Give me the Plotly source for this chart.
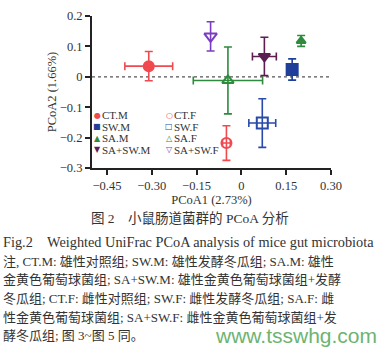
import plotly.graph_objects as go

groups = ["CT.M", "SW.M", "SA.M", "SA+SW.M", "CT.F", "SW.F", "SA.F", "SA+SW.F"]
pc1 = [-0.31, 0.17, 0.20, 0.077, -0.05, 0.07, -0.045, -0.103]
pc2 = [0.035, 0.024, 0.118, 0.067, -0.218, -0.152, -0.012, 0.133]
pc1_err = [0.08, 0.0, 0.0, 0.04, 0.013, 0.045, 0.116, 0.0]
pc2_err = [0.048, 0.035, 0.018, 0.063, 0.057, 0.08, 0.11, 0.048]
colors = ["#f0494f", "#1f3f99", "#2e8b3e", "#5a1f50", "#f0494f", "#2a4aa8", "#2e8b3e", "#7a3cc0"]
symbols = ["circle", "square", "triangle-up", "triangle-down",
           "circle-open", "square-open", "triangle-up-open", "triangle-down-open"]
sizes = [10, 11, 8, 10, 10, 11, 10, 11]
legend_glyphs = ["●", "■", "▲", "▼", "○", "□", "△", "▽"]

x_ticks = [-0.45, -0.30, -0.15, 0, 0.15, 0.30]
x_tick_text = ["−0.45", "−0.30", "−0.15", "0", "0.15", "0.30"]
y_ticks = [-0.3, -0.2, -0.1, 0, 0.1, 0.2]
y_tick_text = ["−0.3", "−0.2", "−0.1", "0", "0.1", "0.2"]

title_cn = "图 2　小鼠肠道菌群的 PCoA 分析"
caption_lines = [
    "Fig.2　Weighted UniFrac PCoA analysis of mice gut microbiota",
    "注, CT.M: 雄性对照组; SW.M: 雄性发酵冬瓜组; SA.M: 雄性",
    "金黄色葡萄球菌组; SA+SW.M: 雄性金黄色葡萄球菌组+发酵",
    "冬瓜组; CT.F: 雌性对照组; SW.F: 雌性发酵冬瓜组; SA.F: 雌",
    "性金黄色葡萄球菌组; SA+SW.F: 雌性金黄色葡萄球菌组+发",
    "酵冬瓜组; 图 3~图 5 同。",
]
watermark = "www.tsswhg.com"

L, R, T, B = 92, 57, 9, 184
W, H = 388, 352
pw, ph = W - L - R, H - T - B

def px(x):
    return (x - L) / pw

def py(y):
    return (H - B - y) / ph

serif = "Liberation Serif, Times New Roman, serif"
cjk = "Liberation Serif, Noto Sans CJK SC, serif"

fig = go.Figure()
for i, g in enumerate(groups):
    fig.add_trace(go.Scatter(
        x=[pc1[i]], y=[pc2[i]], mode="markers", name=g,
        marker=dict(symbol=symbols[i], size=sizes[i], color=colors[i],
                    line=dict(color=colors[i], width=2)),
        error_x=dict(type="data", array=[pc1_err[i]], visible=pc1_err[i] > 0,
                     color=colors[i], thickness=1.6, width=4),
        error_y=dict(type="data", array=[pc2_err[i]], visible=True,
                     color=colors[i], thickness=1.6, width=4),
        showlegend=False,
    ))

fig.add_shape(type="line", xref="paper", yref="y", x0=0, x1=1, y0=0, y1=0,
              line=dict(color="#555555", width=1.2, dash="dot"), layer="below")

annotations = []
leg_cols = [97, 169]
leg_rows = [113, 125, 137, 149]
for i, g in enumerate(groups):
    col = i // 4
    row = i % 4
    gx = leg_cols[col]
    gy = leg_rows[row]
    annotations.append(dict(xref="paper", yref="paper", x=px(gx), y=py(gy),
                            text=legend_glyphs[i], showarrow=False, xanchor="center",
                            yanchor="middle",
                            font=dict(size=8, color=colors[i], family="DejaVu Sans")))
    annotations.append(dict(xref="paper", yref="paper", x=px(gx + 4), y=py(gy),
                            text=g, showarrow=False, xanchor="left", yanchor="middle",
                            borderpad=0,
                            font=dict(size=11, color="#333333", family=serif)))

annotations.append(dict(xref="paper", yref="paper", x=px(190), y=py(221),
                        text=title_cn, showarrow=False, xanchor="center", yanchor="middle",
                        font=dict(size=13.5, color="#333333", family=cjk)))
line_y = [245, 266, 285, 304, 324, 343]
sizes_cap = [14.3, 13, 13, 13, 13, 13]
for t, yy, fs in zip(caption_lines, line_y, sizes_cap):
    annotations.append(dict(xref="paper", yref="paper", x=px(1), y=py(yy),
                            text=t, showarrow=False, xanchor="left", yanchor="middle",
                            font=dict(size=fs, color="#333333", family=cjk)))
annotations.append(dict(xref="paper", yref="paper", x=px(379), y=py(343),
                        text=watermark, showarrow=False, xanchor="right", yanchor="middle",
                        font=dict(size=21, color="#6db472", family="Liberation Sans, Arial")))

fig.update_layout(
    width=W, height=H,
    margin=dict(l=L, r=R, t=T, b=B),
    paper_bgcolor="white", plot_bgcolor="white",
    annotations=annotations,
    font=dict(family=serif, color="#333333"),
    xaxis=dict(range=[-0.5, 0.3], tickvals=x_ticks, ticktext=x_tick_text,
               showgrid=False, zeroline=False, showline=True, linecolor="#222222",
               linewidth=2, ticks="outside", tickwidth=2, ticklen=5, tickcolor="#222222",
               tickfont=dict(size=12.5, family=serif, color="#333333"),
               title=dict(text="PCoA1 (2.73%)", font=dict(size=12.5, family=serif, color="#333333"),
                          standoff=2)),
    yaxis=dict(range=[-0.3, 0.2], tickvals=y_ticks, ticktext=y_tick_text,
               showgrid=False, zeroline=False, showline=True, linecolor="#222222",
               linewidth=2, ticks="outside", tickwidth=2, ticklen=5, tickcolor="#222222",
               tickfont=dict(size=12.5, family=serif, color="#333333"),
               title=dict(text="PCoA2 (1.66%)", font=dict(size=12.5, family=serif, color="#333333"),
                          standoff=0)),
)

fig.write_html("out.html")
